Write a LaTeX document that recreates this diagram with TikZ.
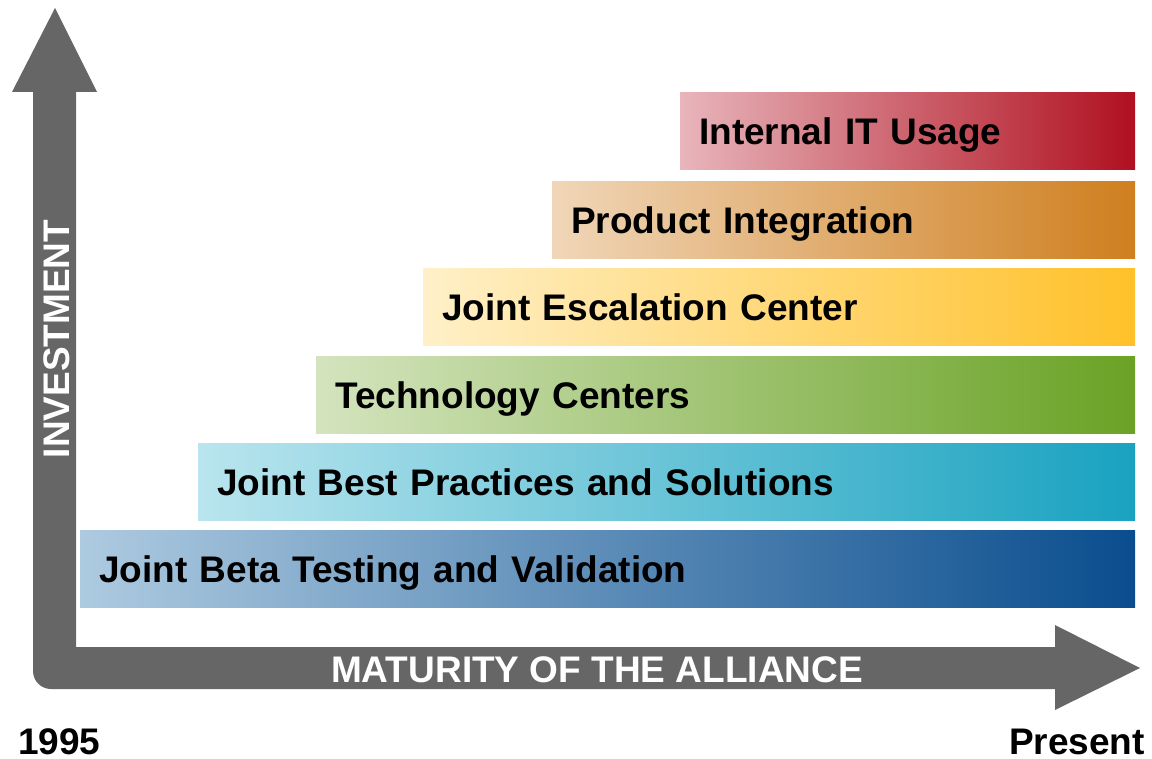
\documentclass[tikz,border=0pt]{standalone}
\usepackage{fontspec}
\setmainfont{Liberation Sans}
\usepackage{xcolor}

\definecolor{axisgray}{HTML}{666666}
\definecolor{ituL}{HTML}{E8B5BB}\definecolor{ituR}{HTML}{B01020}
\definecolor{piL}{HTML}{F0D6B8}\definecolor{piR}{HTML}{CF7F1F}
\definecolor{jecL}{HTML}{FFF0C8}\definecolor{jecR}{HTML}{FFC12A}
\definecolor{tcL}{HTML}{D4E4BE}\definecolor{tcR}{HTML}{6AA225}
\definecolor{jbpL}{HTML}{B9E5EE}\definecolor{jbpR}{HTML}{19A2C0}
\definecolor{jbtL}{HTML}{ADCAE0}\definecolor{jbtR}{HTML}{0A4D8E}

\begin{document}
\begin{tikzpicture}[x=1pt, y=-1pt,
		bar/.style={rectangle, anchor=north west, inner xsep=19pt, inner ysep=0pt, minimum height=77pt, text height=27pt, text depth=0pt, align=left, font=\fontsize{37}{44}\selectfont\bfseries,
			left color=#1L, middle color=#1L!75!#1R, right color=#1R},
		axlbl/.style={text=white, inner sep=0pt, text height=28pt, text depth=0pt, font=\fontsize{37}{44}\selectfont\bfseries},
		yearlbl/.style={inner sep=0pt, text height=26pt, text depth=0pt, font=\fontsize{37}{44}\selectfont\bfseries}]
				\useasboundingbox (0,0) rectangle (1152,759);
				\fill[axisgray] (12,92) -- (55,8) -- (97,92) -- (76,92) -- (76,647) -- (1055,647) -- (1055,625) -- (1140,668) -- (1055,710) -- (1055,689) [rounded corners=18pt] -- (33,689) -- (33,400) [sharp corners] -- (33,92) -- cycle;
				\node[bar=itu, text width=417pt] (itu) at (680,92) {Internal IT Usage};
				\node[bar=pi, text width=545pt] (pi) at (552,181) {Product Integration};
				\node[bar=jec, text width=674pt] (jec) at (423,268.5) {Joint Escalation Center};
				\node[bar=tc, text width=781pt] (tc) at (316,356) {Technology Centers};
				\node[bar=jbp, text width=899pt] (jbp) at (198,443.5) {Joint Best Practices and Solutions};
				\node[bar=jbt, text width=1017pt] (jbt) at (80,530.5) {Joint Beta Testing and Validation};
				\node[axlbl, rotate=90] (inv) at (55,339) {INVESTMENT};
				\node[axlbl] (mat) at (597,668) {MATURITY OF THE ALLIANCE};
				\node[yearlbl, anchor=west] (start) at (18,741) {1995};
				\node[yearlbl, anchor=east] (now) at (1145,741) {Present};
			\end{tikzpicture}
\end{document}
